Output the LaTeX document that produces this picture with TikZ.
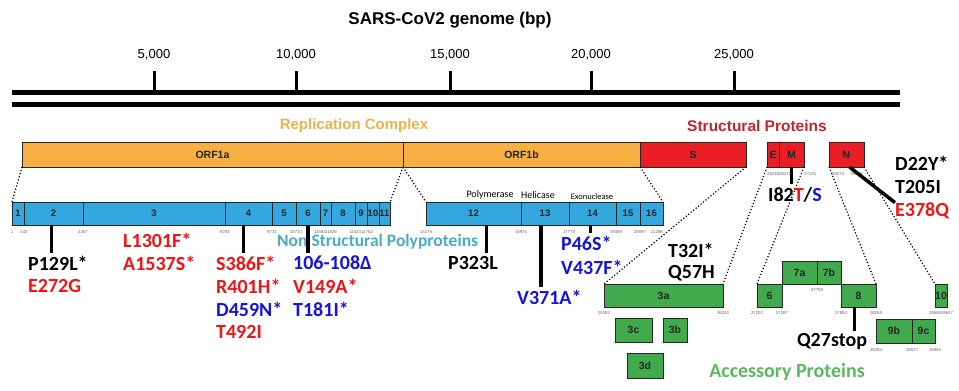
\documentclass[tikz,border=0pt]{standalone}
\usepackage{fontspec}
\setmainfont{Liberation Sans}
\newfontfamily\carlito{Carlito}
\usetikzlibrary{positioning}

\definecolor{orfc}{RGB}{247,176,65}
\definecolor{strc}{RGB}{232,30,36}
\definecolor{nspc}{RGB}{53,167,223}
\definecolor{accc}{RGB}{64,170,76}
\definecolor{replc}{RGB}{236,178,80}
\definecolor{strtxt}{RGB}{192,39,45}
\definecolor{nsptxt}{RGB}{75,172,198}
\definecolor{acctxt}{RGB}{92,184,92}
\definecolor{mred}{RGB}{240,20,20}
\definecolor{mblue}{RGB}{20,20,225}

\tikzset{
  gene/.style={draw=black!85, line width=0.8pt, inner sep=0pt, outer sep=0pt,
    anchor=north west, font=\bfseries\fontsize{10.5}{10.5}\selectfont, text=black!85},
  orf/.style={gene, fill=orfc, minimum height=25pt},
  spike/.style={gene, fill=strc, minimum height=25pt},
  nsp/.style={gene, fill=nspc, minimum height=23pt, font=\bfseries\fontsize{9.5}{9.5}\selectfont},
  acc/.style={gene, fill=accc, minimum height=24pt},
  bp/.style={font=\fontsize{4.3}{4.3}\selectfont, text=black!60, inner sep=0pt, anchor=north},
  mut/.style={font=\carlito\bfseries\fontsize{20}{20}\selectfont, anchor=west, inner sep=0pt},
  mutline/.style={line width=3.5pt, shorten >=3pt},
  zoomline/.style={dotted, line width=1.2pt},
  axis/.style={line width=5pt},
}

\begin{document}
\begin{tikzpicture}[x=1pt, y=-1pt]
  \fill[white] (0,0) rectangle (959,391);
  \useasboundingbox (0,0) rectangle (959,391);

  % genome scale
  \node[font=\bfseries\fontsize{17}{17}\selectfont] (title) at (450,20) {SARS-CoV2 genome (bp)};
  \foreach \k/\x in {5/154,10/296,15/450,20/591,25/734} {
    \node[font=\fontsize{13}{13}\selectfont] (tick\k) at (\x,55) {\k,000};
    \draw[line width=3pt] (\x,71) -- (\x,92);
  }
  \draw[axis] (12,92) -- (900,92);
  \draw[axis] (12,104) -- (900,104);

  \node[font=\bfseries\fontsize{15}{15}\selectfont, text=replc] (repl) at (354,126) {Replication Complex};
  \node[font=\bfseries\fontsize{15.5}{15.5}\selectfont, text=strtxt] (struct) at (757,126) {Structural Proteins};

  % ORFs
  \node[orf, minimum width=381pt] (orf1a) at (22,142) {ORF1a};
  \node[orf, minimum width=237pt, right=0pt of orf1a] (orf1b) {ORF1b};
  \node[spike, minimum width=106pt, right=0pt of orf1b] (sS) {S};
  \node[spike, minimum width=12pt, right=21pt of sS] (sE) {E};
  \node[spike, minimum width=25pt, right=0pt of sE] (sM) {M};
  \node[spike, minimum width=35pt, right=25pt of sM] (sN) {N};

  % non structural proteins
  \node[nsp, minimum width=12pt] (nsp1) at (12,202) {1};
  \foreach \i/\w [remember=\i as \j (initially 1)] in {2/59,3/142,4/47,5/24,6/24,7/11,8/24,9/12,10/12,11/11}
    \node[nsp, minimum width=\w pt, right=0pt of nsp\j] (nsp\i) {\i};
  \node[nsp, minimum width=95pt] (nsp12) at (426,202) {12};
  \foreach \i/\w [remember=\i as \j (initially 12)] in {13/48,14/47,15/24,16/23}
    \node[nsp, minimum width=\w pt, right=0pt of nsp\j] (nsp\i) {\i};

  \node[font=\carlito\fontsize{10}{10}\selectfont] (pol) at (490,195) {Polymerase};
  \node[font=\carlito\fontsize{10}{10}\selectfont] (hel) at (538,195) {Helicase};
  \node[font=\carlito\fontsize{8.5}{8.5}\selectfont] (exo) at (592,197) {Exonuclease};

  % accessory proteins
  \node[acc, minimum width=119pt, minimum height=23pt] (a3a) at (604,284) {3a};
  \node[acc, minimum width=37pt] (a3c) at (615,318) {3c};
  \node[acc, minimum width=24pt] (a3b) at (663,318) {3b};
  \node[acc, minimum width=36pt, minimum height=25pt] (a3d) at (627,353) {3d};
  \node[acc, minimum width=25pt, minimum height=23pt] (a6) at (757,284) {6};
  \node[acc, minimum width=35pt, minimum height=23pt] (a7a) at (782,261) {7a};
  \node[acc, minimum width=24pt, minimum height=23pt, right=0pt of a7a] (a7b) {7b};
  \node[acc, minimum width=35pt, minimum height=23pt] (a8) at (841,284) {8};
  \node[acc, minimum width=36pt] (a9b) at (876,319) {9b};
  \node[acc, minimum width=23pt, right=0pt of a9b] (a9c) {9c};
  \node[acc, minimum width=12pt, minimum height=23pt] (a10) at (935,284) {10};

  % zoom lines
  \draw[zoomline] (orf1a.south west) -- (nsp1.north west);
  \draw[zoomline] (orf1a.south east) -- (nsp11.north east);
  \draw[zoomline] (orf1b.south west) -- (nsp12.north west);
  \draw[zoomline] (orf1b.south east) -- (nsp16.north east);
  \draw[zoomline] (sS.south east) -- (a3a.north west);
  \draw[zoomline] (sE.south west) -- (a3a.north east);
  \draw[zoomline] (sM.south east) -- (a6.north west);
  \draw[zoomline] (sN.south west) -- (a8.north east);
  \draw[zoomline] (sN.south east) -- (a10.north west);

  % genome positions
  \foreach \i/\v in {1/1,2/543,3/2457,4/8292,5/9732,6/10710,7/11583,8/11829,9/12423,10/12762}
    \node[bp] (bpa\i) at ([yshift=-5pt]nsp\i.south west) {\v};
  \foreach \i/\v in {12/13176,13/15975,14/17778,15/19359,16/20097}
    \node[bp] (bpb\i) at ([yshift=-5pt]nsp\i.south west) {\v};
  \node[bp, anchor=north east] (bpb17) at ([yshift=-5pt]nsp16.south east) {21288};
  \node[bp, anchor=north west] (bpe) at ([yshift=-5pt]sE.south west) {26245};
  \node[bp, anchor=north west] (bpm) at ([yshift=-5pt]sM.south west) {26472};
  \node[bp, anchor=north west] (bpm2) at ([yshift=-5pt]sM.south east) {27191};
  \node[bp, anchor=north west] (bpn) at ([shift={(3pt,-5pt)}]sN.south west) {28274};
  \node[bp, anchor=north west] (bpn2) at ([shift={(4pt,-5pt)}]sN.south) {29533};
  \node[bp] (bp3a) at ([yshift=-4pt]a3a.south west) {25393};
  \node[bp] (bp3a2) at ([yshift=-4pt]a3a.south east) {26220};
  \node[bp] (bp6) at ([yshift=-4pt]a6.south west) {27202};
  \node[bp] (bp62) at ([yshift=-4pt]a6.south east) {27387};
  \node[bp] (bp7) at ([yshift=-4pt]a7a.south east) {27759};
  \node[bp] (bp8) at ([yshift=-4pt]a8.south west) {27894};
  \node[bp] (bp82) at ([yshift=-4pt]a8.south east) {28259};
  \node[bp] (bp9) at ([yshift=-5pt]a9b.south west) {28284};
  \node[bp] (bp92) at ([yshift=-5pt]a9b.south east) {28577};
  \node[bp] (bp93) at ([yshift=-5pt]a9c.south east) {28955};
  \node[bp] (bp10) at ([yshift=-4pt]a10.south west) {29558};
  \node[bp] (bp102) at ([yshift=-4pt]a10.south east) {29647};

  \node[font=\carlito\bfseries\fontsize{17.5}{17.5}\selectfont, text=nsptxt, anchor=west, inner sep=0pt] (nsplab) at (277,242) {Non Structural Polyproteins};
  \node[font=\carlito\bfseries\fontsize{20}{20}\selectfont, text=acctxt] (acclab) at (787,372) {Accessory Proteins};

  % mutations
  \node[mut] (p129l) at (28,263) {P129L*};
  \node[mut, text=mred] (e272g) at (28,286) {E272G};
  \node[mut, text=mred] (l1301f) at (123,240) {L1301F*};
  \node[mut, text=mred] (a1537s) at (123,263) {A1537S*};
  \node[mut, text=mred] (s386f) at (216,263) {S386F*};
  \node[mut, text=mred] (r401h) at (216,286) {R401H*};
  \node[mut, text=mblue] (d459n) at (216,309) {D459N*};
  \node[mut, text=mred] (t492i) at (216,332) {T492I};
  \node[mut, text=mblue] (del106) at (293,263) {106-108Δ};
  \node[mut, text=mred] (v149a) at (293,286) {V149A*};
  \node[mut, text=mblue] (t181i) at (293,309) {T181I*};
  \node[mut] (p323l) at (448,263) {P323L};
  \node[mut, text=mblue] (v371a) at (517,297) {V371A*};
  \node[mut, text=mblue] (p46s) at (561,243) {P46S*};
  \node[mut, text=mblue] (v437f) at (561,267) {V437F*};
  \node[mut] (t32i) at (668,250) {T32I*};
  \node[mut] (q57h) at (668,273) {Q57H};
  \node[mut, anchor=center] (i82) at (795,195) {I82\textcolor{mred}{T}/\textcolor{mblue}{S}};
  \node[mut] (d22y) at (895,163) {D22Y*};
  \node[mut] (t205i) at (895,187) {T205I};
  \node[mut, text=mred] (e378q) at (895,211) {E378Q};
  \node[mut, anchor=center] (q27stop) at (832,342) {Q27stop};

  \draw[mutline] ([xshift=-2pt]nsp2.south) -- ([xshift=-2pt]nsp2.south |- p129l.north);
  \draw[mutline] ([xshift=-5pt]nsp4.south) -- ([xshift=-5pt]nsp4.south |- s386f.north);
  \draw[mutline] (nsp6.south) -- (nsp6.south |- del106.north);
  \draw[mutline] ([xshift=13pt]nsp12.south) -- ([xshift=13pt]nsp12.south |- p323l.north);
  \draw[mutline] ([xshift=-4pt]nsp13.south) -- ([xshift=-4pt]nsp13.south |- v371a.north);
  \draw[mutline] ([xshift=-2pt]nsp14.south) -- ([xshift=-2pt]nsp14.south |- p46s.north);
  \draw[mutline] (sM.south) -- (sM.south |- i82.north);
  \draw[mutline, shorten >=0pt] ([xshift=3pt]sN.south) -- (e378q.north west);
  \draw[mutline] ([xshift=-4pt]a8.south) -- ([xshift=-4pt]a8.south |- q27stop.north);
\end{tikzpicture}
\end{document}
